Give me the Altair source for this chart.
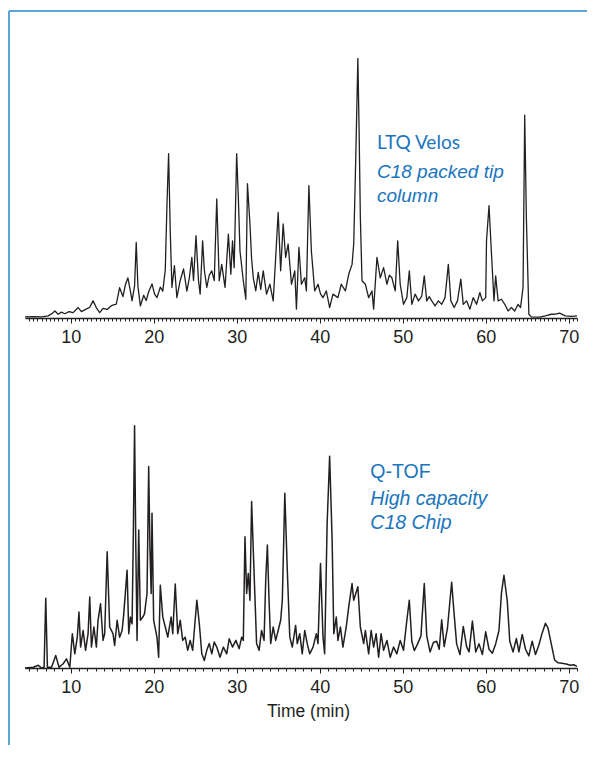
import altair as alt
import pandas as pd

INK = "#231f20"
BLUE = "#1a75bc"
FRAME = "#5ba4d6"

# ---------------- data ----------------
top_t = [4.5, 5.5, 6.5, 7.3, 7.8, 8.1, 8.5, 8.9, 9.3, 9.8, 10.3, 10.9, 11.3, 11.8, 12.3, 12.7,
         13.1, 13.5, 13.9, 14.4, 14.9, 15.5, 15.9, 16.3, 16.6, 16.9, 17.2, 17.4, 17.7, 17.9,
         18.1, 18.4, 18.8, 19.1, 19.4, 19.8, 20.1, 20.4, 20.8, 21.1, 21.4, 21.6, 21.8, 22.0,
         22.2, 22.5, 22.8, 23.2, 23.6, 24.0, 24.3, 24.6, 24.8, 25.1, 25.4, 25.6, 25.9, 26.1,
         26.4, 26.7, 27.0, 27.3, 27.6, 27.9, 28.2, 28.6, 29.0, 29.3, 29.5, 29.7, 29.85, 30.0,
         30.2, 30.4, 30.8, 31.1, 31.3, 31.6, 31.8, 32.0, 32.3, 32.6, 32.9, 33.2, 33.6, 34.0,
         34.4, 34.7, 35.0, 35.3, 35.6, 35.9, 36.2, 36.6, 37.0, 37.2, 37.5, 37.8, 38.2, 38.4,
         38.55, 38.7, 39.0, 39.4, 39.8, 40.1, 40.4, 40.8, 41.2, 41.6, 42.2, 42.6, 43.1, 43.5,
         43.9, 44.1, 44.35, 44.6, 44.75, 44.9, 45.1, 45.5, 45.9, 46.3, 46.5, 46.9, 47.3, 47.7,
         48.1, 48.4, 48.7, 49.1, 49.4, 49.7, 50.1, 50.5, 50.8, 51.1, 51.5, 51.9, 52.3, 52.6,
         52.9, 53.2, 53.5, 53.9, 54.3, 54.7, 55.1, 55.5, 55.8, 56.2, 56.6, 57.0, 57.3, 57.7,
         58.1, 58.5, 58.9, 59.3, 59.6, 60.0, 60.1, 60.4, 60.7, 61.0, 61.2, 61.5, 61.9, 62.3,
         62.7, 63.1, 63.5, 63.9, 64.2, 64.5, 64.7, 64.9, 65.2, 65.5, 66.5, 67.3, 67.9, 68.5,
         68.9, 69.6, 70.3, 71.0]
top_v = [0.4, 0.5, 0.4, 0.8, 1.8, 2.6, 1.4, 2.2, 1.6, 2.4, 2.0, 3.9, 2.4, 3.2, 4.0, 6.4,
         3.8, 2.0, 3.6, 3.2, 4.6, 5.2, 11.3, 8.0, 12.5, 15.0, 10.0, 6.4, 12.0, 28.2,
         12.0, 4.5, 8.5, 6.5, 9.8, 12.7, 9.0, 7.6, 11.5, 10.0, 18.0, 42.0, 61.3, 32.0,
         11.4, 19.5, 7.6, 14.0, 18.3, 10.0, 15.0, 22.6, 14.0, 30.7, 14.0, 8.9, 28.8, 18.0,
         11.4, 16.0, 17.6, 14.0, 44.4, 13.9, 20.0, 11.4, 31.3, 16.3, 28.8, 18.8, 40.0, 61.3,
         45.0, 25.0, 13.9, 7.0, 50.1, 35.1, 22.0, 15.0, 10.1, 17.0, 10.7, 17.6, 8.9, 12.6,
         6.4, 22.6, 39.4, 17.6, 35.1, 22.6, 27.6, 12.6, 17.6, 3.3, 26.3, 12.6, 15.0, 10.1,
         30.0, 49.4, 25.0, 10.1, 12.6, 9.0, 7.6, 10.1, 3.9, 8.9, 7.6, 12.6, 10.1, 16.3,
         20.0, 27.6, 60.0, 96.9, 70.0, 37.6, 13.9, 12.6, 7.6, 10.1, 3.3, 22.6, 15.0, 18.8,
         12.6, 16.0, 15.0, 10.1, 28.8, 12.6, 5.1, 7.6, 17.6, 5.1, 8.9, 6.4, 8.2, 15.7,
         6.4, 8.0, 6.4, 4.5, 6.4, 5.1, 7.6, 20.0, 6.4, 3.9, 6.4, 14.5, 5.1, 6.4,
         3.3, 7.6, 5.1, 9.5, 6.4, 7.6, 28.8, 41.9, 23.8, 6.4, 15.7, 6.4, 7.0, 5.1,
         2.6, 3.9, 2.6, 5.1, 3.9, 11.4, 75.7, 37.6, 1.4, 0.4, 0.3, 0.9, 1.4, 1.5,
         1.8, 0.8, 0.6, 0.8]

bot_t = [4.5, 5.5, 6.1, 6.5, 6.8, 7.0, 7.2, 7.7, 8.2, 8.6, 9.1, 9.5, 9.9, 10.2, 10.5, 10.8,
         11.0, 11.2, 11.5, 11.8, 12.1, 12.3, 12.5, 12.8, 13.1, 13.3, 13.6, 13.9, 14.1, 14.4,
         14.7, 15.1, 15.3, 15.6, 15.9, 16.2, 16.4, 16.8, 17.0, 17.2, 17.4, 17.55, 17.7, 17.85,
         18.0, 18.2, 18.4, 18.7, 18.9, 19.2, 19.4, 19.55, 19.7, 19.8, 20.0, 20.4, 20.6, 20.8,
         21.1, 21.4, 21.7, 22.1, 22.3, 22.6, 22.9, 23.2, 23.5, 23.8, 24.1, 24.4, 24.7, 25.2,
         25.5, 25.8, 26.1, 26.4, 26.7, 27.0, 27.3, 27.6, 28.0, 28.4, 28.8, 29.1, 29.5, 29.9,
         30.3, 30.6, 30.8, 31.0, 31.2, 31.4, 31.6, 31.8, 32.1, 32.4, 32.7, 33.0, 33.3, 33.5,
         33.7, 33.9, 34.1, 34.4, 34.7, 35.0, 35.3, 35.5, 35.8, 36.1, 36.4, 36.7, 37.1, 37.3,
         37.6, 37.9, 38.2, 38.5, 38.8, 39.2, 39.6, 39.8, 40.1, 40.4, 40.6, 40.9, 41.2, 41.5,
         41.7, 42.0, 42.2, 42.5, 42.8, 43.2, 43.5, 43.9, 44.1, 44.6, 44.9, 45.3, 45.5, 45.9,
         46.2, 46.5, 46.8, 47.1, 47.4, 47.7, 48.1, 48.5, 48.9, 49.3, 49.7, 50.1, 50.5, 50.8,
         51.1, 51.4, 51.8, 52.2, 52.6, 52.9, 53.3, 53.7, 54.1, 54.4, 54.7, 55.0, 55.4, 55.9,
         56.2, 56.5, 56.9, 57.3, 57.7, 58.0, 58.4, 58.8, 59.2, 59.6, 60.0, 60.4, 60.8, 61.2,
         61.6, 61.9, 62.2, 62.6, 62.9, 63.3, 63.7, 64.0, 64.4, 64.8, 65.2, 65.6, 66.0, 66.4,
         66.8, 67.2, 67.5, 67.9, 68.3, 68.7, 69.2, 69.7, 70.2, 70.6, 71.0]
bot_v = [0.0, 0.3, 1.0, 0.0, 0.3, 26.0, 0.3, 0.3, 4.7, 0.3, 1.6, 3.4, 0.3, 12.8, 5.3, 11.5,
         20.9, 7.8, 14.0, 6.6, 12.8, 26.5, 7.8, 15.3, 7.8, 17.8, 24.0, 10.3, 12.8, 43.4,
         15.3, 12.8, 8.4, 17.8, 11.5, 14.0, 20.3, 36.5, 12.8, 19.0, 16.5, 50.0, 90.4, 45.0,
         10.3, 51.5, 17.8, 19.0, 20.3, 27.8, 75.2, 45.0, 27.8, 57.7, 17.8, 11.5, 4.0, 30.9,
         19.0, 15.3, 11.5, 19.0, 12.8, 31.3, 12.8, 17.8, 10.3, 11.5, 6.6, 10.3, 6.6, 25.3,
         16.5, 5.3, 2.8, 6.6, 9.1, 5.3, 9.7, 7.8, 4.0, 7.8, 5.3, 10.9, 7.8, 10.3,
         7.2, 11.5, 10.3, 49.0, 27.8, 35.3, 25.3, 62.1, 35.3, 9.1, 6.6, 14.0, 10.3, 32.8,
         45.9, 25.3, 9.1, 15.3, 10.3, 14.0, 17.8, 25.3, 65.2, 36.5, 11.5, 7.8, 15.9, 9.1,
         12.8, 5.3, 14.0, 9.1, 5.3, 7.8, 12.8, 9.1, 39.0, 11.5, 5.3, 54.0, 79.0, 47.8,
         12.8, 19.0, 10.3, 15.3, 7.8, 15.3, 22.8, 31.5, 25.3, 30.3, 15.3, 9.1, 14.0, 5.3,
         14.0, 7.8, 12.8, 4.0, 12.8, 6.6, 10.3, 4.0, 7.8, 5.3, 10.3, 6.6, 17.8, 25.3,
         10.0, 6.5, 9.0, 12.0, 31.5, 12.0, 6.0, 9.5, 10.0, 7.0, 18.0, 8.0, 15.0, 32.0,
         20.0, 9.0, 5.0, 15.5, 8.0, 6.0, 17.5, 6.0, 9.0, 5.0, 13.5, 7.0, 5.5, 9.0,
         14.0, 28.0, 34.6, 25.0, 10.0, 6.0, 11.0, 6.0, 12.5, 7.0, 4.5, 10.0, 5.0, 8.5,
         13.0, 16.7, 15.0, 9.0, 3.0, 2.0, 1.8, 1.5, 1.0, 1.2, 0.6]

major_ticks = [10, 20, 30, 40, 50, 60, 70]
top_minor_ticks = [i / 2 for i in range(10, 143)]
bot_minor_ticks = list(range(5, 72))

top_label_text = ["LTQ Velos", "C18 packed tip", "column"]
top_label_style = ["normal", "italic", "italic"]
top_label_t = [46.9, 46.9, 46.9]
top_label_v = [63.0, 52.2, 43.2]

bot_label_text = ["Q-TOF", "High capacity", "C18 Chip"]
bot_label_style = ["normal", "italic", "italic"]
bot_label_t = [46.1, 46.1, 46.1]
bot_label_v = [70.9, 60.8, 52.0]

X_DOMAIN = [4.5, 71]
W = 552
H = 268


def panel(t, v, minor, lab_text, lab_style, lab_t, lab_v, normal_font, lab_size,
          stroke_w, title, frame):
    xs = alt.Scale(domain=X_DOMAIN, nice=False, zero=False)
    ys = alt.Scale(domain=[0, 100], nice=False, zero=True)
    df = pd.DataFrame({"t": t, "v": v})
    lab = pd.DataFrame({"t": lab_t, "v": lab_v, "text": lab_text, "style": lab_style})

    if title:
        major_axis = alt.Axis(values=major_ticks, format="d", tickSize=5, labelPadding=5,
                              title=title, titleX=283, titleY=48, titleAlign="center",
                              titleBaseline="alphabetic", titleFont="Liberation Sans",
                              titleFontSize=17.5, titleFontWeight="normal", titleColor=INK)
    else:
        major_axis = alt.Axis(values=major_ticks, format="d", tickSize=5, labelPadding=5,
                              title=None)

    line = alt.Chart(df).mark_line(color=INK, strokeWidth=stroke_w,
                                   strokeJoin="round").encode(
        x=alt.X("t:Q", scale=xs, axis=major_axis),
        y=alt.Y("v:Q", scale=ys, axis=None),
    )
    txt_normal = alt.Chart(lab).transform_filter(alt.datum.style == "normal").mark_text(
        align="left", baseline="alphabetic", font=normal_font, fontSize=lab_size, color=BLUE
    ).encode(
        x=alt.X("t:Q", scale=xs,
                axis=alt.Axis(values=minor, labels=False, domain=False, tickSize=3,
                              title=None, orient="bottom")),
        y=alt.Y("v:Q", scale=ys, axis=None),
        text="text:N",
    )
    txt_italic = alt.Chart(lab).transform_filter(alt.datum.style == "italic").mark_text(
        align="left", baseline="alphabetic", font="Liberation Sans", fontSize=lab_size,
        fontStyle="italic", color=BLUE
    ).encode(
        x=alt.X("t:Q", scale=xs, axis=None),
        y=alt.Y("v:Q", scale=ys, axis=None),
        text="text:N",
    )
    layers = [line, txt_normal, txt_italic]
    if frame:
        one = pd.DataFrame({"k": [0]})
        f_top = alt.Chart(one).mark_rule(color=FRAME, strokeWidth=2).encode(
            x=alt.value(-16), x2=alt.value(562), y=alt.value(-39))
        f_left = alt.Chart(one).mark_rule(color=FRAME, strokeWidth=2).encode(
            x=alt.value(-16), y=alt.value(-39), y2=alt.value(695))
        layers = [f_top, f_left] + layers
    return alt.layer(*layers).resolve_axis(x="independent").properties(width=W, height=H)


top = panel(top_t, top_v, top_minor_ticks, top_label_text, top_label_style, top_label_t,
            top_label_v, "Lato", 19, 1.3, None, True)
bottom = panel(bot_t, bot_v, bot_minor_ticks, bot_label_text, bot_label_style, bot_label_t,
               bot_label_v, "Liberation Sans", 19.5, 1.5, "Time (min)", False)

chart = alt.vconcat(top, bottom, spacing=82, bounds="flush").properties(
    padding={"left": 0, "top": 2, "right": 0, "bottom": 0}
).configure_view(strokeWidth=0).configure_axis(
    grid=False, domainColor=INK, domainWidth=1.5, tickColor=INK, tickWidth=1,
    labelFont="Liberation Sans", labelFontSize=18, labelColor=INK,
)

chart.save("out.html", embed_options={"renderer": "svg", "actions": False})
